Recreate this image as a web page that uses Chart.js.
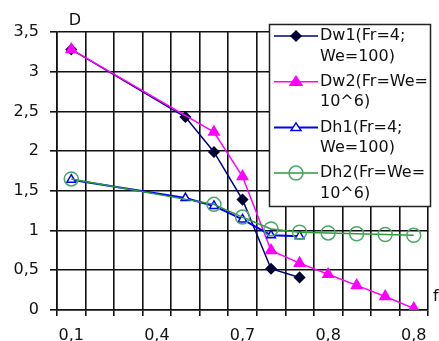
<!DOCTYPE html>
<html>
<head>
<meta charset="utf-8">
<script src="https://cdn.jsdelivr.net/npm/chart.js@4/dist/chart.umd.min.js"></script>
<style>
  html,body{margin:0;padding:0;background:#fff;}
  #wrap{position:relative;width:439px;height:341px;}
</style>
</head>
<body>
<div id="wrap"><canvas id="c" width="439" height="341"></canvas></div>
<script>
// categories (x), only every 3rd label is shown
const cats = ['0,1','0,2','0,3','0,4','0,5','0,6','0,7','0,7','0,8','0,8','0,8','0,8','0,8'];
const yTicks = [0, 0.5, 1, 1.5, 2, 2.5, 3, 3.5];

// series (null = no point, line spans over it)
const dw1 = [3.28, null, null, null, 2.43, 1.99, 1.39, 0.52, 0.41, null, null, null, null];
const dw2 = [3.28, null, null, null, null, 2.24, 1.68, 0.75, 0.59, 0.45, 0.31, 0.17, 0.02];
const dh1 = [1.64, null, null, null, 1.41, 1.31, 1.14, 0.94, 0.93, null, null, null, null];
const dh2 = [1.65, null, null, null, null, 1.33, 1.17, 1.02, 0.98, 0.97, 0.96, 0.95, 0.94];

const legendLines = [
  ['Dw1(Fr=4;', 'We=100)'],
  ['Dw2(Fr=We=', '10^6)'],
  ['Dh1(Fr=4;', 'We=100)'],
  ['Dh2(Fr=We=', '10^6)']
];

const FONT = 'DejaVu Sans';
const style = [
  {line:'#000080', fill:'#000033', stroke:'#000033', shape:'diamond', r:5, lw:1.5},
  {line:'#ff00ff', fill:'#ff00ff', stroke:'#ff00ff', shape:'triangle', r:6, lw:1.5},
  {line:'#0000ff', fill:'#ffffff', stroke:'#0000ff', shape:'triangle', r:5, lw:2},
  {line:'#2e9a3a', fill:'rgba(0,0,0,0)', stroke:'#4aa86a', shape:'circle', r:7, lw:1.5}
];
const pointStyleOf = {diamond:'rectRot', triangle:'triangle', circle:'circle'};

function mkSet(label, data, i, order){
  const s = style[i];
  return {
    label, data, order, spanGaps:true,
    borderColor:s.line, borderWidth:s.lw, tension:0,
    pointStyle:pointStyleOf[s.shape], pointRadius:s.r, pointHoverRadius:s.r,
    pointBackgroundColor:s.fill, pointBorderColor:s.stroke, pointBorderWidth:1.5
  };
}

function drawMarker(ctx, s, x, y){
  ctx.save();
  ctx.fillStyle = s.fill; ctx.strokeStyle = s.stroke; ctx.lineWidth = 1.5;
  ctx.beginPath();
  const r = s.r;
  if (s.shape === 'diamond'){
    ctx.moveTo(x, y-r); ctx.lineTo(x+r, y); ctx.lineTo(x, y+r); ctx.lineTo(x-r, y); ctx.closePath();
  } else if (s.shape === 'triangle'){
    const h = r*1.5;
    ctx.moveTo(x, y-h*0.6); ctx.lineTo(x+r, y+h*0.4); ctx.lineTo(x-r, y+h*0.4); ctx.closePath();
  } else {
    ctx.arc(x, y, r, 0, Math.PI*2);
  }
  ctx.fill(); ctx.stroke();
  ctx.restore();
}

// box legend with wrapped text + axis letters
const extras = {
  id:'extras',
  afterDraw(chart){
    const ctx = chart.ctx;
    ctx.save();
    ctx.fillStyle = '#fff';
    ctx.fillRect(269.5, 24.5, 161, 182);
    ctx.strokeStyle = '#222'; ctx.lineWidth = 1.5;
    ctx.strokeRect(269.5, 24.5, 161, 182);
    ctx.font = '16px "' + FONT + '"';
    ctx.textBaseline = 'middle'; ctx.textAlign = 'left';
    legendLines.forEach((lines, i) => {
      const y0 = 36 + i*45.7;
      const s = style[i];
      ctx.strokeStyle = s.line; ctx.lineWidth = s.lw;
      ctx.beginPath(); ctx.moveTo(274, y0); ctx.lineTo(318, y0); ctx.stroke();
      drawMarker(ctx, s, 296, y0);
      ctx.fillStyle = '#111';
      lines.forEach((t, k) => ctx.fillText(t, 320, y0 + k*20.5));
    });
    ctx.fillStyle = '#111';
    ctx.textAlign = 'center';
    ctx.fillText('D', 75, 21);
    ctx.textAlign = 'left';
    ctx.fillText('f', 433, 297);
    ctx.restore();
  }
};

new Chart(document.getElementById('c'), {
  type:'line',
  data:{
    labels:cats,
    datasets:[
      mkSet('Dw1(Fr=4; We=100)', dw1, 0, 4),
      mkSet('Dw2(Fr=We=10^6)', dw2, 1, 3),
      mkSet('Dh1(Fr=4; We=100)', dh1, 2, 2),
      mkSet('Dh2(Fr=We=10^6)', dh2, 3, 1)
    ]
  },
  options:{
    responsive:false, animation:false,
    layout:{padding:{top:32, right:11, left:0, bottom:0}},
    plugins:{legend:{display:false}, tooltip:{enabled:false}},
    scales:{
      x:{
        type:'category', offset:true,
        grid:{offset:true, color:c => c.index === cats.length ? '#999' : '#111', lineWidth:1.6, tickLength:6},
        border:{color:'#111', width:1.6},
        ticks:{autoSkip:false, maxRotation:0, padding:10, color:'#111', font:{family:FONT, size:16},
          callback(v, i){ return i % 3 === 0 ? this.getLabelForValue(v) : ''; }},
        afterFit(s){ s.height = 31; }
      },
      y:{
        min:0, max:3.5,
        grid:{color:'#111', lineWidth:1.6, tickLength:7},
        border:{color:'#111', width:1.6},
        afterBuildTicks(s){ s.ticks = yTicks.map(v => ({value:v})); },
        ticks:{padding:11, color:'#111', font:{family:FONT, size:16},
          callback:v => String(v).replace('.', ',')},
        afterFit(s){ s.width = 57; }
      }
    }
  },
  plugins:[extras]
});
</script>
</body>
</html>
